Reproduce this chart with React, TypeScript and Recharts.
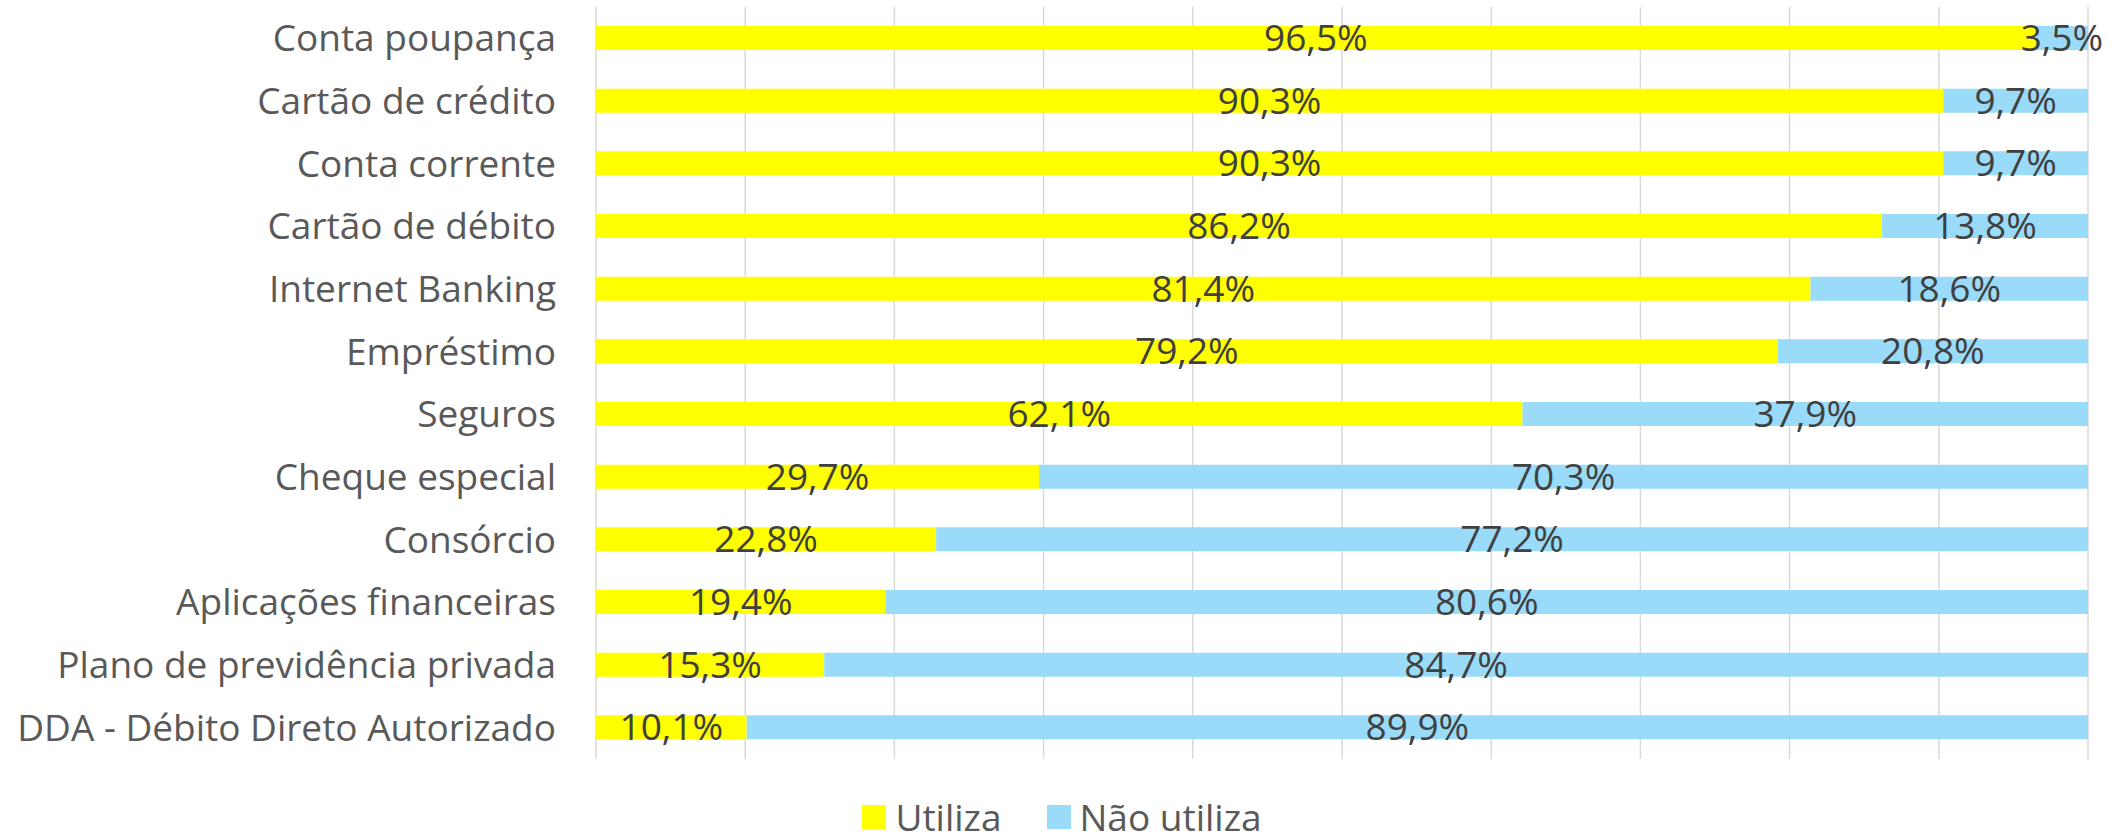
import React from "react";
import {
  BarChart,
  Bar,
  XAxis,
  YAxis,
  CartesianGrid,
  LabelList,
  Legend,
} from "recharts";

const categories = [
  "Conta poupança",
  "Cartão de crédito",
  "Conta corrente",
  "Cartão de débito",
  "Internet Banking",
  "Empréstimo",
  "Seguros",
  "Cheque especial",
  "Consórcio",
  "Aplicações financeiras",
  "Plano de previdência privada",
  "DDA - Débito Direto Autorizado",
];
const utiliza = [96.5, 90.3, 90.3, 86.2, 81.4, 79.2, 62.1, 29.7, 22.8, 19.4, 15.3, 10.1];
const naoUtiliza = [3.5, 9.7, 9.7, 13.8, 18.6, 20.8, 37.9, 70.3, 77.2, 80.6, 84.7, 89.9];
const xTicks = [0, 10, 20, 30, 40, 50, 60, 70, 80, 90, 100];

const seriesNames = { utiliza: "Utiliza", naoUtiliza: "Não utiliza" };
const colors = { utiliza: "#FFFF00", naoUtiliza: "#99DBF8" };

const data = categories.map((name, i) => ({
  name,
  utiliza: utiliza[i],
  naoUtiliza: naoUtiliza[i],
}));

const FONT = "'Open Sans', sans-serif";
const pct = (v: any) => `${Number(v).toFixed(1).replace(".", ",")}%`;

function LegendBox() {
  const items = [
    { label: seriesNames.utiliza, color: colors.utiliza },
    { label: seriesNames.naoUtiliza, color: colors.naoUtiliza },
  ];
  return (
    <div
      style={{
        height: 79,
        boxSizing: "border-box",
        paddingTop: 36,
        display: "flex",
        justifyContent: "center",
        fontFamily: FONT,
      }}
    >
      {items.map((it, i) => (
        <div
          key={it.label}
          style={{
            display: "flex",
            alignItems: "center",
            height: 43,
            marginLeft: i === 0 ? 0 : 45,
          }}
        >
          <span
            style={{ width: 24, height: 24, background: it.color, marginRight: 9, display: "inline-block" }}
          />
          <span style={{ fontSize: 37, lineHeight: "43px", color: "#595959" }}>{it.label}</span>
        </div>
      ))}
    </div>
  );
}

export default function App() {
  return (
    <div style={{ position: "absolute", left: 0, top: 0, fontFamily: FONT }}>
      <BarChart
        width={2124}
        height={838}
        data={data}
        layout="vertical"
        margin={{ top: 7, right: 36, bottom: 0, left: 0 }}
      >
        <CartesianGrid horizontal={false} stroke="#D9D9D9" strokeWidth={1.5} />
        <XAxis type="number" domain={[0, 100]} ticks={xTicks} hide />
        <YAxis
          type="category"
          dataKey="name"
          width={596}
          tickLine={false}
          axisLine={false}
          tickSize={0}
          tickMargin={40}
          tick={{ fill: "#595959", fontSize: 37, fontFamily: FONT }}
          interval={0}
        />
        <Legend
          verticalAlign="bottom"
          content={() => <LegendBox />}
          wrapperStyle={{ left: 0, width: 2124, bottom: 0 }}
        />
        <Bar
          dataKey="utiliza"
          name={seriesNames.utiliza}
          stackId="a"
          fill={colors.utiliza}
          barSize={24}
          isAnimationActive={false}
        >
          <LabelList
            dataKey="utiliza"
            position="center"
            formatter={pct}
            fill="#404040"
            fontSize={37}
            fontFamily={FONT}
          />
        </Bar>
        <Bar
          dataKey="naoUtiliza"
          name={seriesNames.naoUtiliza}
          stackId="a"
          fill={colors.naoUtiliza}
          barSize={24}
          isAnimationActive={false}
        >
          <LabelList
            dataKey="naoUtiliza"
            position="center"
            formatter={pct}
            fill="#404040"
            fontSize={37}
            fontFamily={FONT}
          />
        </Bar>
      </BarChart>
    </div>
  );
}
